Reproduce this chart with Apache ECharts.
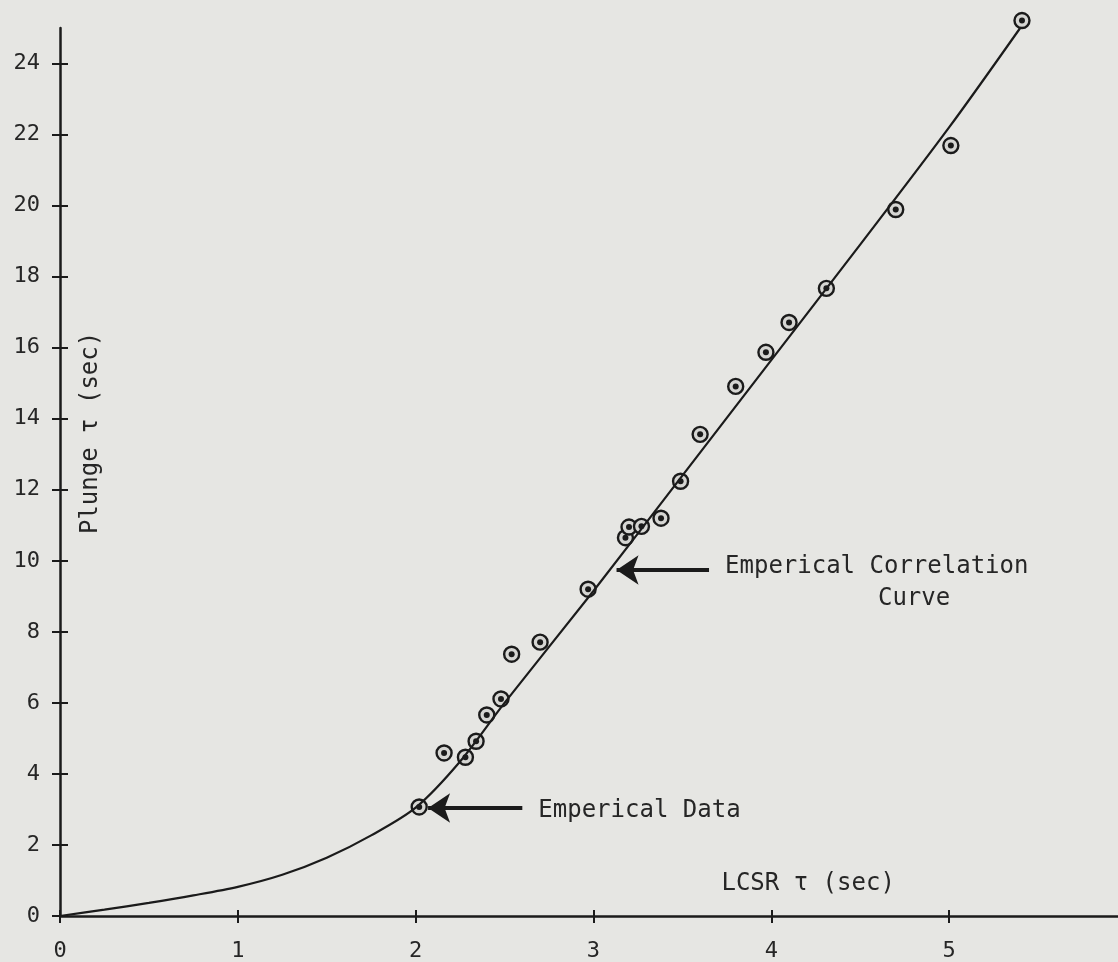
<!DOCTYPE html>
<html>
<head>
<meta charset="utf-8">
<script src="https://cdn.jsdelivr.net/npm/echarts@6/dist/echarts.min.js"></script>
<style>
html,body{margin:0;padding:0;background:#e6e6e3;}
#c{width:1118px;height:962px;}
</style>
</head>
<body>
<div id="c"></div>
<script>
// ---- data ----
const xTicks = [0, 1, 2, 3, 4, 5];
const yTicks = [0, 2, 4, 6, 8, 10, 12, 14, 16, 18, 20, 22, 24];
// empirical data points: [LCSR tau, Plunge tau]
const empiricalX = [2.02, 2.16, 2.28, 2.34, 2.40, 2.48, 2.54, 2.70, 2.97, 3.18, 3.20, 3.27, 3.38, 3.49, 3.60, 3.80, 3.97, 4.10, 4.31, 4.70, 5.01, 5.41];
const empiricalY = [3.07, 4.59, 4.47, 4.92, 5.66, 6.11, 7.37, 7.71, 9.20, 10.65, 10.95, 10.97, 11.20, 12.24, 13.56, 14.91, 15.87, 16.71, 17.67, 19.89, 21.69, 25.21];
// empirical correlation curve
const curveX = [0, 0.25, 0.5, 0.75, 1.0, 1.25, 1.5, 1.75, 2.0, 2.25, 2.5, 3.0, 3.5, 4.0, 4.5, 5.0, 5.4];
const curveY = [0, 0.18, 0.37, 0.58, 0.82, 1.16, 1.64, 2.27, 3.05, 4.35, 6.0, 9.15, 12.4, 15.65, 18.9, 22.2, 25.0];
// annotation texts
const labelCurve1 = 'Emperical Correlation';
const labelCurve2 = 'Curve';
const labelData = 'Emperical Data';
const xTitle = 'LCSR \u03c4 (sec)';
const yTitle = 'Plunge \u03c4 (sec)';

// ---- chart ----
const FONT = '"DejaVu Sans Mono", "Liberation Mono", monospace';
const INK = '#1b1b1b';
const TXT = '#262626';
const chart = echarts.init(document.getElementById('c'), null, {renderer: 'canvas'});

const pts = empiricalX.map((x, i) => [x, empiricalY[i]]);
const curve = curveX.map((x, i) => [x, curveY[i]]);

const textAnno = [
  {name: labelCurve1, value: [3.74, 9.82]},
  {name: labelCurve2, value: [4.60, 8.92]},
  {name: labelData, value: [2.69, 2.95]},
  {name: xTitle, value: [3.72, 0.92]}
];

const baseX = {type: 'value', min: 0, max: 5.95, splitLine: {show: false}};
const baseY = {type: 'value', min: 0, max: 25, splitLine: {show: false}};

chart.setOption({
  backgroundColor: '#e6e6e3',
  animation: false,
  grid: {left: 60, right: 0, top: 28, bottom: 45, containLabel: false},
  xAxis: [
    Object.assign({}, baseX, {
      position: 'bottom',
      axisLine: {show: true, lineStyle: {color: INK, width: 2.5}},
      axisTick: {show: true, inside: false, length: 7, lineStyle: {color: INK, width: 2}, customValues: xTicks},
      axisLabel: {show: true, margin: 24, fontFamily: FONT, fontSize: 22, color: TXT, customValues: xTicks}
    }),
    Object.assign({}, baseX, {
      position: 'bottom',
      axisLine: {show: false},
      axisTick: {show: true, inside: true, length: 6, lineStyle: {color: INK, width: 2}, customValues: xTicks},
      axisLabel: {show: false}
    })
  ],
  yAxis: [
    Object.assign({}, baseY, {
      position: 'left',
      axisLine: {show: true, lineStyle: {color: INK, width: 2.5}},
      axisTick: {show: true, inside: false, length: 8, lineStyle: {color: INK, width: 2}, customValues: yTicks},
      axisLabel: {show: true, margin: 20, fontFamily: FONT, fontSize: 22, color: TXT, customValues: yTicks}
    }),
    Object.assign({}, baseY, {
      position: 'left',
      axisLine: {show: false},
      axisTick: {show: true, inside: true, length: 8, lineStyle: {color: INK, width: 2}, customValues: yTicks},
      axisLabel: {show: false}
    })
  ],
  series: [
    {
      name: 'curve',
      type: 'line',
      data: curve,
      smooth: 0.3,
      showSymbol: false,
      clip: false,
      lineStyle: {color: INK, width: 2.2},
      markLine: {
        silent: true,
        symbol: ['none', 'arrow'],
        symbolSize: 22,
        label: {show: false},
        lineStyle: {color: INK, width: 4, type: 'solid'},
        data: [
          [{coord: [3.65, 9.74]}, {coord: [3.13, 9.74]}],
          [{coord: [2.60, 3.04]}, {coord: [2.07, 3.04]}]
        ]
      }
    },
    {
      name: 'data',
      type: 'scatter',
      data: pts,
      clip: false,
      symbol: 'circle',
      symbolSize: 15,
      itemStyle: {color: '#d6d6d3', borderColor: INK, borderWidth: 2.4, opacity: 1}
    },
    {
      name: 'dataDot',
      type: 'scatter',
      data: pts,
      clip: false,
      symbol: 'circle',
      symbolSize: 6,
      itemStyle: {color: INK, opacity: 1}
    },
    {
      name: 'text',
      type: 'scatter',
      data: textAnno,
      symbolSize: 0,
      clip: false,
      silent: true,
      itemStyle: {opacity: 1},
      label: {
        show: true, position: 'right', distance: 0,
        formatter: p => p.name,
        fontFamily: FONT, fontSize: 24, color: TXT
      }
    },
    {
      name: 'ytitle',
      type: 'scatter',
      data: [{name: yTitle, value: [0.175, 13.6]}],
      symbolSize: 0,
      clip: false,
      silent: true,
      itemStyle: {opacity: 1},
      label: {
        show: true, position: 'inside', rotate: 90,
        formatter: p => p.name,
        fontFamily: FONT, fontSize: 24, color: TXT
      }
    }
  ]
});
</script>
</body>
</html>
